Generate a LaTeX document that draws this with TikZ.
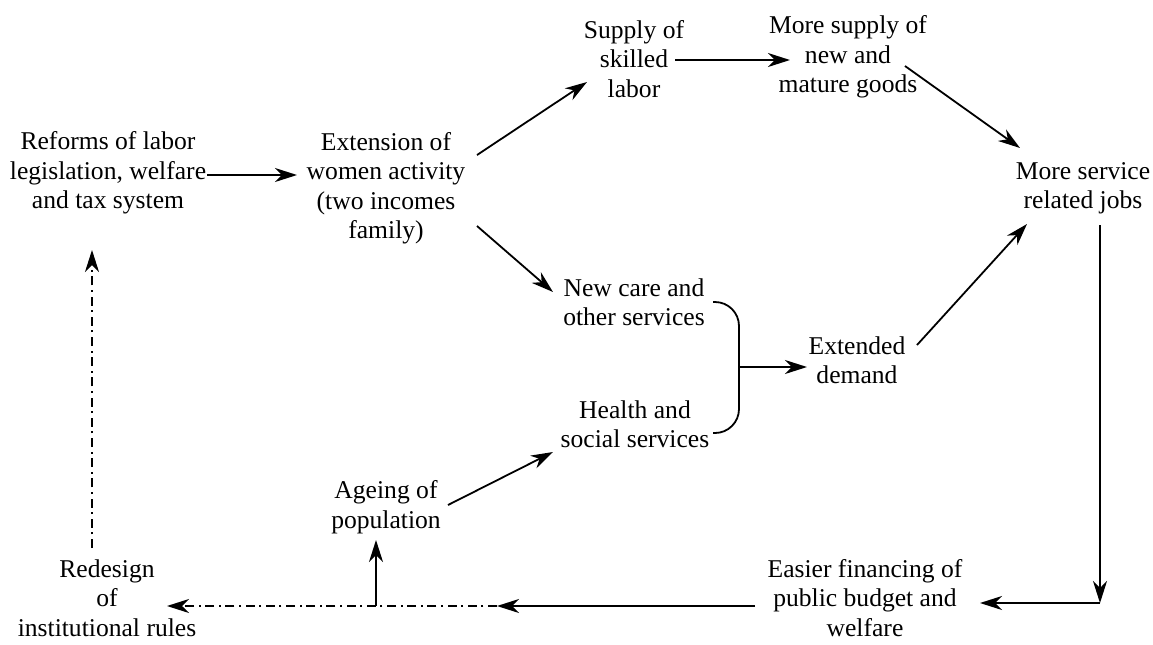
\documentclass[tikz,border=0pt]{standalone}
\usepackage{fontspec}
\setmainfont{Liberation Serif}
\usetikzlibrary{arrows.meta}
\begin{document}
\begin{tikzpicture}[x=0.5pt,y=-0.5pt,
  lbl/.style={align=center,font=\fontsize{12.8}{14.75}\selectfont,inner sep=1pt},
  arr/.style={-{Stealth[length=11pt,width=7pt,inset=3.5pt]},line width=0.9pt},
  dd/.style={arr,dash pattern=on 4.5pt off 2.3pt on 1pt off 2.3pt},
  brace/.style={line width=0.9pt,rounded corners=12}]
\useasboundingbox (0,0) rectangle (1153,644);
\node[lbl] (reforms) at (108,173) {Reforms of labor\\legislation, welfare\\and tax system};
\node[lbl] (ext) at (386,188) {Extension of\\women activity\\(two incomes\\family)};
\node[lbl] (supply) at (634,59) {Supply of\\skilled\\labor};
\node[lbl] (moresup) at (848,57) {More supply of\\new and\\mature goods};
\node[lbl] (moreserv) at (1083,188) {More service\\related jobs};
\node[lbl] (newcare) at (634,302) {New care and\\other services};
\node[lbl] (health) at (635,424) {Health and\\social services};
\node[lbl] (extd) at (857,360) {Extended\\demand};
\node[lbl] (ageing) at (386,507) {Ageing of\\population};
\node[lbl] (redesign) at (107,598) {Redesign\\of\\institutional rules};
\node[lbl] (easier) at (865,598) {Easier financing of\\public budget and\\welfare};
\coordinate (brace) at (739,367);
\coordinate (corner) at (1100,603);
\coordinate (mid) at (497,606);
\coordinate (branch) at (376,606);
% connectors
\draw[arr] ([shift={(99,2)}]reforms.center) -- ([shift={(-89,-13)}]ext.center);
\draw[arr] ([shift={(91,-33)}]ext.center) -- ([shift={(-47,23)}]supply.center);
\draw[arr] ([shift={(41,1)}]supply.center) -- ([shift={(-58,3)}]moresup.center);
\draw[arr] ([shift={(57,9)}]moresup.center) -- ([shift={(-63,-40)}]moreserv.center);
\draw[arr] ([shift={(91,38)}]ext.center) -- ([shift={(-81,-10)}]newcare.center);
\draw[arr] ([shift={(62,-2)}]ageing.center) -- ([shift={(-82,28)}]health.center);
\draw[brace] ([shift={(79,0)}]newcare.center) -- (739,302) -- (739,433) -- ([shift={(78,9)}]health.center);
\draw[arr] (brace) -- ([shift={(-50,7)}]extd.center);
\draw[arr] ([shift={(60,-15)}]extd.center) -- ([shift={(-56,36)}]moreserv.center);
\draw[arr] ([shift={(17,37)}]moreserv.center) -- (corner);
\draw[arr] (corner) -- ([shift={(115,5)}]easier.center);
\draw[arr] ([shift={(-110,8)}]easier.center) -- (mid);
\draw[dd] (mid) -- ([shift={(60,8)}]redesign.center);
\draw[arr] (branch) -- ([shift={(-10,33)}]ageing.center);
\draw[dd] ([shift={(-15,-50)}]redesign.center) -- ([shift={(-16,77)}]reforms.center);
\end{tikzpicture}
\end{document}
